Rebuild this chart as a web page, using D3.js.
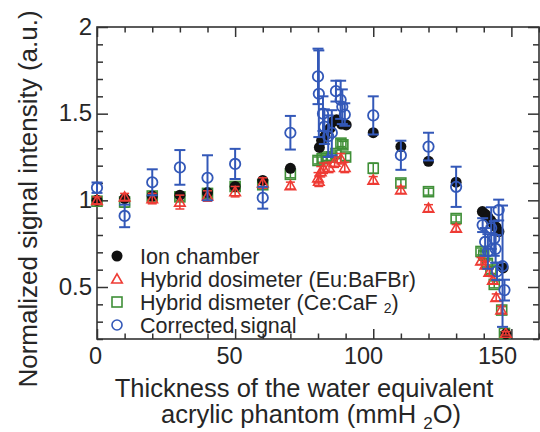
<!DOCTYPE html>
<html><head><meta charset="utf-8">
<script src="https://cdn.jsdelivr.net/npm/d3@7"></script>
<style>
body{margin:0;background:#fff}
svg{display:block}
text{font-family:"Liberation Sans",Arial,sans-serif;fill:#262626}
</style>
</head><body>
<svg id="chart" width="540" height="432"></svg>
<script>
// ---- data ----
const ionX = [0,10,20,30,40,50,60,70,80.5,81.3,82.5,84.3,85.5,86.7,88.5,90.2,100,110,120,130,139.5,140.5,141.5,142.5,143.5,144.5,145.5,147,148];
const ionY = [1.0,1.01,1.025,1.03,1.045,1.08,1.115,1.185,1.305,1.345,1.37,1.415,1.455,1.465,1.44,1.435,1.39,1.31,1.225,1.105,0.935,0.92,0.905,0.885,0.865,0.845,0.82,0.61,0.23];

const euX = [0,10,20,30,40,50,60,70,80,80.3,81,82,84,86,88.3,89.7,100,110,120,130,139,140.6,142,143.3,144.5,146.3,148];
const euY = [1.0,1.02,1.01,0.99,1.025,1.05,1.1,1.085,1.13,1.11,1.165,1.185,1.19,1.22,1.24,1.19,1.117,1.06,0.955,0.84,0.65,0.627,0.585,0.54,0.44,0.368,0.233];
const euE = [0.02,0.02,0.03,0.04,0.03,0.03,0.03,0.02,0.03,0.03,0.03,0.03,0.03,0.03,0.03,0.03,0.02,0.02,0.02,0.02,0.02,0.02,0.02,0.02,0.02,0.02,0.01];

const ceX = [0,10,20,30,40,50,60,70,80,81.5,83,85,86.5,88.3,89,90,100,110,120,130,139,140,141.3,142.6,143.8,146.5,147.5];
const ceY = [0.995,0.99,1.025,1.02,1.04,1.08,1.09,1.15,1.23,1.24,1.25,1.25,1.27,1.33,1.32,1.25,1.185,1.10,1.05,0.895,0.705,0.684,0.636,0.598,0.515,0.367,0.232];
const ceE = [0.02,0.03,0.02,0.02,0.02,0.02,0.02,0.02,0.02,0.02,0.02,0.02,0.02,0.02,0.02,0.02,0.03,0.02,0.02,0.02,0.02,0.02,0.02,0.02,0.02,0.02,0.01];

const corX = [0,10,20,30,40,50,60,70,80,80.3,81.8,82.3,83.7,85,86.5,88.2,88.8,89.7,100,110,120,130,139.6,140.5,141.5,142.7,143.8,144.3,144.8,145.4,146.8,147.5];
const corY = [1.073,0.91,1.104,1.19,1.13,1.21,1.015,1.39,1.715,1.615,1.50,1.425,1.37,1.39,1.63,1.58,1.54,1.495,1.49,1.26,1.31,1.078,0.857,0.76,0.705,0.84,0.78,0.72,0.59,0.944,0.62,0.482];
const corE = [0.03,0.065,0.075,0.1,0.13,0.087,0.063,0.097,0.16,0.25,0.10,0.10,0.12,0.13,0.06,0.11,0.10,0.065,0.11,0.084,0.08,0.116,0.04,0.08,0.1,0.12,0.1,0.08,0.05,0.06,0.35,0.06];

const xTickValues = [0,50,100,150];
const yTickValues = [0.5,1,1.5,2];
const yTickLabels = ["0.5","1","1.5","2"];
const legendLabels = ["Ion chamber","Hybrid dosimeter (Eu:BaFBr)","Hybrid dismeter (Ce:CaF","Corrected signal"];

// ---- layout ----
const svg = d3.select("#chart");
const L = 97, R = 539, T = 27, B = 339;
const x = d3.scaleLinear().domain([0,160]).range([L,R]);
const y = d3.scaleLinear().domain([0.2,2]).range([B,T]);
const xLab = d3.scaleLinear().domain([0,150]).range([95,497]);

const axisCol = "#333";
const cBlue = "#3358b8", cRed = "#ee3b34", cGreen = "#3f8f37", cBlack = "#111";

function styleAxis(g){
  g.select(".domain").remove();
  g.selectAll("line").attr("stroke",axisCol).attr("stroke-width",1.5);
  g.selectAll("text").remove();
}
const xMinor = d3.range(0,161,10).filter(v=>v%50!==0);
const yMinor = d3.range(2,21).map(v=>v/10).filter(v=>Math.abs(v*2-Math.round(v*2))>1e-6);
svg.append("g").attr("transform",`translate(0,${B})`).call(d3.axisBottom(x).tickValues(xTickValues).tickSize(-10)).call(styleAxis);
svg.append("g").attr("transform",`translate(0,${B})`).call(d3.axisBottom(x).tickValues(xMinor).tickSize(-5.5)).call(styleAxis);
svg.append("g").attr("transform",`translate(0,${T})`).call(d3.axisTop(x).tickValues(xTickValues).tickSize(-10)).call(styleAxis);
svg.append("g").attr("transform",`translate(0,${T})`).call(d3.axisTop(x).tickValues(xMinor).tickSize(-5.5)).call(styleAxis);
svg.append("g").attr("transform",`translate(${L},0)`).call(d3.axisLeft(y).tickValues(yTickValues).tickSize(-11)).call(styleAxis);
svg.append("g").attr("transform",`translate(${L},0)`).call(d3.axisLeft(y).tickValues(yMinor).tickSize(-6)).call(styleAxis);
svg.append("g").attr("transform",`translate(${R},0)`).call(d3.axisRight(y).tickValues(yTickValues).tickSize(-11)).call(styleAxis);
svg.append("g").attr("transform",`translate(${R},0)`).call(d3.axisRight(y).tickValues(yMinor).tickSize(-6)).call(styleAxis);

svg.append("rect").attr("x",L).attr("y",T).attr("width",R-L).attr("height",B-T)
  .attr("fill","none").attr("stroke",axisCol).attr("stroke-width",1.6);

// tick labels
const xl = svg.append("g").attr("transform",`translate(0,${B})`)
  .call(d3.axisBottom(xLab).tickValues(xTickValues).tickSize(0).tickPadding(8).tickFormat(d3.format("d")));
xl.select(".domain").remove();
xl.selectAll("text").attr("font-size",23.5).attr("fill","#262626").attr("font-family","Liberation Sans, Arial, sans-serif");

const yl = svg.append("g").attr("transform",`translate(${L},0)`)
  .call(d3.axisLeft(y).tickValues(yTickValues).tickSize(0).tickPadding(5).tickFormat((d,i)=>yTickLabels[i]));
yl.select(".domain").remove();
yl.selectAll("text").attr("font-size",24).attr("fill","#262626").attr("dy","0.3em").attr("font-family","Liberation Sans, Arial, sans-serif");

// axis titles
const xt = svg.append("text").attr("text-anchor","middle").attr("font-size",25.5);
xt.append("tspan").attr("x",304).attr("y",397).text("Thickness of the water equivalent");
const l2 = xt.append("tspan").attr("x",311).attr("y",423);
l2.text("acrylic phantom (mmH ");
xt.append("tspan").attr("font-size",17).attr("dy",6).text("2");
xt.append("tspan").attr("dy",-6).text("O)");

svg.append("text").attr("text-anchor","middle").attr("font-size",26)
  .attr("transform","translate(37,199) rotate(-90)")
  .text("Normalized signal intensity (a.u.)");

// ---- marks ----
const plot = svg.append("g");
function errBars(xs,ys,es,col,w,cap){
  const g = plot.append("g").attr("stroke",col).attr("stroke-width",w).attr("fill","none");
  xs.forEach((xv,i)=>{
    const cx = x(xv), y1 = y(ys[i]+es[i]), y0 = y(ys[i]-es[i]);
    g.append("line").attr("x1",cx).attr("x2",cx).attr("y1",y1).attr("y2",y0);
    g.append("line").attr("x1",cx-cap).attr("x2",cx+cap).attr("y1",y1).attr("y2",y1);
    g.append("line").attr("x1",cx-cap).attr("x2",cx+cap).attr("y1",y0).attr("y2",y0);
  });
}
const triPath = d3.symbol(d3.symbolTriangle, 48)();
errBars(ceX,ceY,ceE,cGreen,1.5,4.5);
plot.append("g").selectAll("rect").data(ceX).join("rect")
  .attr("x",(d)=>x(d)-5).attr("y",(d,i)=>y(ceY[i])-5).attr("width",10).attr("height",10)
  .attr("fill","none").attr("stroke",cGreen).attr("stroke-width",1.6);
plot.append("g").selectAll("circle").data(ionX).join("circle")
  .attr("cx",d=>x(d)).attr("cy",(d,i)=>y(ionY[i])).attr("r",5.5).attr("fill",cBlack);
errBars(euX,euY,euE,cRed,1.5,4.5);
plot.append("g").selectAll("path").data(euX).join("path")
  .attr("d",triPath).attr("transform",(d,i)=>`translate(${x(d)},${y(euY[i])+1})`)
  .attr("fill","none").attr("stroke",cRed).attr("stroke-width",1.6);
errBars(corX,corY,corE,cBlue,2,5.5);
plot.append("g").selectAll("circle").data(corX).join("circle")
  .attr("cx",d=>x(d)).attr("cy",(d,i)=>y(corY[i])).attr("r",5.2)
  .attr("fill","none").attr("stroke",cBlue).attr("stroke-width",1.8);

// ---- legend ----
const lg = svg.append("g");
const lx = 117, tx = 140, base = [264,287,310,333];
lg.append("circle").attr("cx",lx).attr("cy",base[0]-8).attr("r",5.5).attr("fill",cBlack);
lg.append("path").attr("d",triPath).attr("transform",`translate(${lx},${base[1]-7})`)
  .attr("fill","none").attr("stroke",cRed).attr("stroke-width",1.6);
lg.append("rect").attr("x",lx-5).attr("y",base[2]-13).attr("width",10).attr("height",10)
  .attr("fill","none").attr("stroke",cGreen).attr("stroke-width",1.6);
lg.append("circle").attr("cx",lx).attr("cy",base[3]-8).attr("r",5).attr("fill","none")
  .attr("stroke",cBlue).attr("stroke-width",1.6);
legendLabels.forEach((t,i)=>{
  const tt = lg.append("text").attr("x",tx).attr("y",base[i]).attr("font-size",21.5);
  tt.append("tspan").text(t);
  if(i===2){
    tt.append("tspan").text(" ");
    tt.append("tspan").attr("font-size",14).attr("dy",3).text("2");
    tt.append("tspan").attr("dy",-3).text(")");
  }
});
</script>
</body></html>
